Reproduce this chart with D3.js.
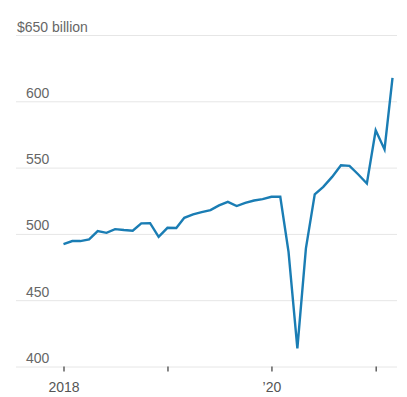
<!DOCTYPE html>
<html>
<head>
<meta charset="utf-8">
<script src="https://cdn.jsdelivr.net/npm/d3@7"></script>
<style>
  html, body { margin: 0; padding: 0; background: #fff; }
  svg { display: block; font-family: Lato, "Noto Sans", sans-serif; }
  .grid line { stroke: #e6e6e6; stroke-width: 1; }
  .grid text { fill: #666; font-size: 14px; }
  .xaxis line { stroke: #555; stroke-width: 1.4; }
  .xaxis text { fill: #555; font-size: 14px; }
</style>
</head>
<body>
<svg id="chart" width="407" height="397"></svg>
<script>
// Monthly values, billions of dollars, Jan 2018 – Mar 2021
const months = [
  "2018-01","2018-02","2018-03","2018-04","2018-05","2018-06","2018-07","2018-08","2018-09","2018-10","2018-11","2018-12",
  "2019-01","2019-02","2019-03","2019-04","2019-05","2019-06","2019-07","2019-08","2019-09","2019-10","2019-11","2019-12",
  "2020-01","2020-02","2020-03","2020-04","2020-05","2020-06","2020-07","2020-08","2020-09","2020-10","2020-11","2020-12",
  "2021-01","2021-02","2021-03"
];
const values = [
  492.3, 494.6, 494.6, 495.9, 502.1, 500.8, 503.6, 502.9, 502.4, 507.9, 508.1, 497.8,
  504.6, 504.4, 512.1, 514.7, 516.4, 517.9, 521.5, 524.2, 521.0, 523.4, 525.2, 526.2,
  528.0, 528.0, 486.5, 413.7, 489.1, 529.8, 535.5, 543.0, 551.8, 551.3, 544.8, 538.0,
  578.2, 563.7, 617.6
];
const yTicks = [400, 450, 500, 550, 600, 650];
const xTickDates = ["2018-01", "2019-01", "2020-01", "2021-01"];
const xTickLabels = ["2018", "", "\u201920", ""];

const parse = d3.timeParse("%Y-%m");
const data = months.map((m, i) => ({ date: parse(m), value: values[i] }));

const svg = d3.select("#chart");
const left = 16, right = 397;

const x = d3.scaleTime()
  .domain([parse("2018-01"), parse("2021-01")])
  .range([63.5, 375.7]);
const y = d3.scaleLinear()
  .domain([400, 650])
  .range([366.5, 35]);

// Horizontal gridlines with labels sitting above each line
const grid = svg.append("g")
  .attr("class", "grid")
  .attr("transform", `translate(${left},0)`)
  .call(d3.axisRight(y)
    .tickValues(yTicks)
    .tickSize(right - left)
    .tickFormat(d => d === 650 ? "$650 billion" : d));
grid.select(".domain").remove();
grid.selectAll(".tick text")
  .attr("x", d => d === 650 ? 1 : 10)
  .attr("dy", -4)
  .attr("text-anchor", "start");

// Year ticks below the baseline
const xAxis = svg.append("g")
  .attr("class", "xaxis")
  .attr("transform", `translate(0,${y(400)})`)
  .call(d3.axisBottom(x)
    .tickValues(xTickDates.map(parse))
    .tickSize(5)
    .tickPadding(8)
    .tickFormat((d, i) => xTickLabels[i]));
xAxis.select(".domain").remove();
xAxis.selectAll(".tick text").attr("dy", "0.9em");

// Series line
svg.append("path")
  .datum(data)
  .attr("fill", "none")
  .attr("stroke", "#1a7db4")
  .attr("stroke-width", 2.4)
  .attr("stroke-linejoin", "miter")
  .attr("d", d3.line().x(d => x(d.date)).y(d => y(d.value)));
</script>
</body>
</html>
